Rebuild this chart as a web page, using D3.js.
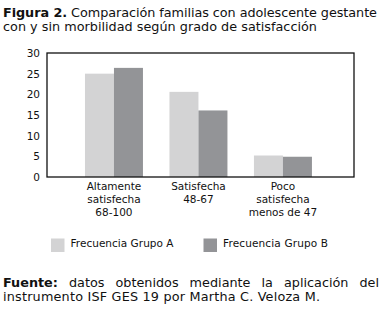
<!DOCTYPE html>
<html><head><meta charset="utf-8">
<script src="https://cdn.jsdelivr.net/npm/d3@7"></script>
<style>body{margin:0;background:#fff}svg{display:block;font-family:"DejaVu Sans",Verdana,sans-serif}</style>
</head><body>
<script>
const categories = [["Altamente","satisfecha","68-100"],["Satisfecha","48-67"],["Poco","satisfecha","menos de 47"]];
const seriesNames = ["Frecuencia Grupo A","Frecuencia Grupo B"];
const grupoA = [25, 20.6, 5.2];
const grupoB = [26.4, 16.1, 4.9];
const yTicks = [0,5,10,15,20,25,30];
const colors = ["#d3d3d4","#939497"];

const W=385,H=318;
const svg=d3.select("body").append("svg").attr("width",W).attr("height",H);

const plot={l:47,r:354,t:53,b:177};
const y=d3.scaleLinear().domain([0,30]).range([plot.b,plot.t]);
const x=d3.scaleBand().domain(d3.range(categories.length)).range([71.7,325.2]).paddingInner(0.3136).paddingOuter(0.157);
const xs=d3.scaleBand().domain([0,1]).range([0,x.bandwidth()]);

const fs=12.8;
// fit a text element to a target width by scaling word/letter spacing
function fit(t,w){const n=t.node();const l=n.getComputedTextLength();const chars=n.textContent.length;
  t.attr("letter-spacing",((w-l)/Math.max(1,chars-1)).toFixed(3));}

// title
const t1=svg.append("text").attr("x",3).attr("y",17).attr("font-size",fs).attr("fill","#111");
t1.append("tspan").attr("font-weight","bold").text("Figura 2.");
t1.append("tspan").text(" Comparación familias con adolescente gestante");
fit(t1,374);
const t2=svg.append("text").attr("x",3).attr("y",31).attr("font-size",fs).attr("fill","#111").text("con y sin morbilidad según grado de satisfacción");
fit(t2,314);

// bars
const data=categories.map((c,i)=>[grupoA[i],grupoB[i]]);
const g=svg.append("g");
data.forEach((vals,i)=>{
  vals.forEach((v,j)=>{
    g.append("rect").attr("x",x(i)+xs(j)).attr("width",xs.bandwidth())
     .attr("y",y(v)).attr("height",y(0)-y(v)).attr("fill",colors[j]);
  });
});

// frame
svg.append("rect").attr("x",plot.l).attr("y",plot.t).attr("width",plot.r-plot.l).attr("height",plot.b-plot.t)
  .attr("fill","none").attr("stroke","#111").attr("stroke-width",1.3);

// y axis
const ya=svg.append("g").attr("transform",`translate(${plot.l},0)`)
  .call(d3.axisLeft(y).tickValues(yTicks).tickSize(0).tickPadding(7));
ya.select(".domain").remove();
ya.selectAll("text").attr("font-size",10.5).attr("font-family","DejaVu Sans, Verdana, sans-serif").attr("fill","#111");

// x labels
categories.forEach((lines,i)=>{
  const cx=x(i)+x.bandwidth()/2;
  const t=svg.append("text").attr("text-anchor","middle").attr("font-size",10.5).attr("fill","#111");
  lines.forEach((s,k)=>t.append("tspan").attr("x",cx).attr("y",190+k*12.8).text(s));
});

// legend
const legX=[51,203.5];
seriesNames.forEach((n,j)=>{
  svg.append("rect").attr("x",legX[j]).attr("y",238.5).attr("width",13.5).attr("height",13.5).attr("fill",colors[j]);
  const lt=svg.append("text").attr("x",legX[j]+19.5).attr("y",247).attr("font-size",10.5).attr("fill","#111").text(n);
  fit(lt,j===0?103:105);
});

// footer, justified first line
const words=["Fuente:","datos","obtenidos","mediante","la","aplicación","del"];
const fy=287;
const tmp=words.map((w,i)=>svg.append("text").attr("y",fy).attr("font-size",fs).attr("fill","#111")
   .attr("font-weight",i===0?"bold":"normal").text(w));
const widths=tmp.map(t=>t.node().getComputedTextLength());
const total=d3.sum(widths);
const gap=(379-3-total)/(words.length-1);
let cx=3;
tmp.forEach((t,i)=>{t.attr("x",cx);cx+=widths[i]+gap;});
const f2=svg.append("text").attr("x",3).attr("y",301).attr("font-size",fs).attr("fill","#111").text("instrumento ISF GES 19 por Martha C. Veloza M.");
fit(f2,317);
</script>
</body></html>
